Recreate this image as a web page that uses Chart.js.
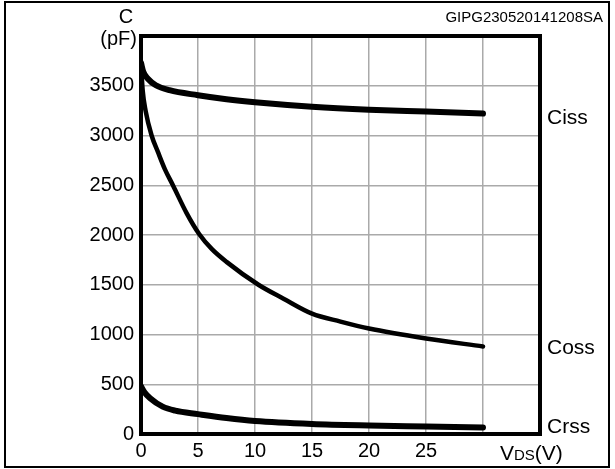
<!DOCTYPE html>
<html>
<head>
<meta charset="utf-8">
<script src="https://cdn.jsdelivr.net/npm/chart.js@4"></script>
<style>
  html, body { margin: 0; padding: 0; background: #fff; }
  #wrap { position: relative; width: 615px; height: 469px; }
</style>
</head>
<body>
<div id="wrap"><canvas id="chart" width="615" height="469"></canvas></div>
<script>
// VDS (V) sample points and capacitances (pF)
const vdsCiss = [0, 0.2, 0.6, 1.3, 2.5, 5, 7.5, 10, 15, 20, 25, 30];
const ciss = [3730, 3640, 3570, 3505, 3455, 3405, 3365, 3335, 3290, 3260, 3240, 3220];

const vdsCoss = [0, 0.15, 0.4, 0.93, 1.5, 2.1, 2.8, 4, 5.1, 6.2, 7.5, 10.3, 12.5, 15, 17.5, 20, 25, 30];
const coss = [3720, 3450, 3250, 3000, 2830, 2660, 2500, 2220, 2010, 1860, 1730, 1500, 1360, 1210, 1130, 1060, 960, 880];

const vdsCrss = [0, 0.3, 0.8, 1.9, 3, 5, 7.5, 10, 15, 20, 25, 30];
const crss = [480, 420, 360, 275, 235, 200, 160, 130, 100, 85, 75, 65];

const seriesNames = ['Ciss', 'Coss', 'Crss'];
const xTickLabels = ['0', '5', '10', '15', '20', '25'];
const yTickLabels = ['0', '500', '1000', '1500', '2000', '2500', '3000', '3500'];

const FONT = '"Liberation Sans", Arial, sans-serif';

function pts(xs, ys) {
    return xs.map((x, i) => ({x: x, y: ys[i]}));
}

function curve(label, data, width) {
    return {
        label: label,
        data: data,
        showLine: true,
        borderColor: '#000',
        borderWidth: width,
        pointRadius: 0,
        cubicInterpolationMode: 'monotone',
        borderCapStyle: 'round',
        fill: false,
    };
}

const decorPlugin = {
    id: 'decor',
    afterDraw(chart) {
        const {ctx, chartArea, scales} = chart;
        const {left, right, top, bottom} = chartArea;
        ctx.save();
        // outer frame
        ctx.strokeStyle = '#000';
        ctx.lineWidth = 2;
        ctx.strokeRect(5, 2, 604, 465);
        // plot box
        ctx.lineWidth = 4;
        ctx.strokeRect(left, top, right - left, bottom - top);

        ctx.fillStyle = '#000';
        ctx.textBaseline = 'middle';
        ctx.font = '21px ' + FONT;
        // series labels next to the last points
        chart.data.datasets.forEach((ds, i) => {
            const last = ds.data[ds.data.length - 1];
            let y = scales.y.getPixelForValue(last.y);
            if (i === 0) y += 5;
            if (i === 1) y += 2;
            if (i === 2) y = Math.min(y, bottom - 4);
            ctx.textAlign = 'left';
            ctx.fillText(seriesNames[i], right + 7, y);
        });
        // y axis title
        ctx.font = '20px ' + FONT;
        ctx.textAlign = 'center';
        ctx.fillText('C', left - 15, 17);
        ctx.textAlign = 'right';
        ctx.fillText('(pF)', left - 4, 39);
        // x axis title VDS(V)
        ctx.textAlign = 'left';
        ctx.textBaseline = 'alphabetic';
        let x = scales.x.getPixelForValue(30) + 17;
        const yb = bottom + 26;
        ctx.font = '21px ' + FONT;
        ctx.fillText('V', x, yb);
        x += ctx.measureText('V').width;
        ctx.font = '15px ' + FONT;
        ctx.fillText('DS', x, yb);
        x += ctx.measureText('DS').width;
        ctx.font = '21px ' + FONT;
        ctx.fillText('(V)', x, yb);
        // figure code
        ctx.textBaseline = 'middle';
        ctx.font = '15px ' + FONT;
        ctx.textAlign = 'right';
        ctx.fillText('GIPG230520141208SA', 603, 18);
        ctx.restore();
    }
};

new Chart(document.getElementById('chart'), {
    type: 'scatter',
    data: {
        datasets: [
            curve('Ciss', pts(vdsCiss, ciss), 6),
            curve('Coss', pts(vdsCoss, coss), 4.5),
            curve('Crss', pts(vdsCrss, crss), 6),
        ]
    },
    options: {
        responsive: false,
        animation: false,
        layout: {padding: {top: 36, right: 75, left: 0, bottom: 0}},
        plugins: {legend: {display: false}, tooltip: {enabled: false}},
        scales: {
            x: {
                type: 'linear',
                min: 0,
                max: 35,
                afterFit(scale) { scale.height = 35; },
                ticks: {
                    stepSize: 5,
                    color: '#000',
                    font: {family: FONT, size: 20},
                    padding: 5,
                    maxRotation: 0,
                    callback: (v) => xTickLabels.includes(String(v)) ? String(v) : '',
                },
                grid: {color: '#aaa', lineWidth: 1.5, drawTicks: false},
                border: {display: false},
            },
            y: {
                type: 'linear',
                min: 0,
                max: 4000,
                afterFit(scale) { scale.width = 141; },
                ticks: {
                    stepSize: 500,
                    color: '#000',
                    font: {family: FONT, size: 20},
                    padding: 7,
                    callback: (v) => yTickLabels.includes(String(v)) ? String(v) : '',
                },
                grid: {color: '#aaa', lineWidth: 1.5, drawTicks: false},
                border: {display: false},
            }
        }
    },
    plugins: [decorPlugin]
});
</script>
</body>
</html>
